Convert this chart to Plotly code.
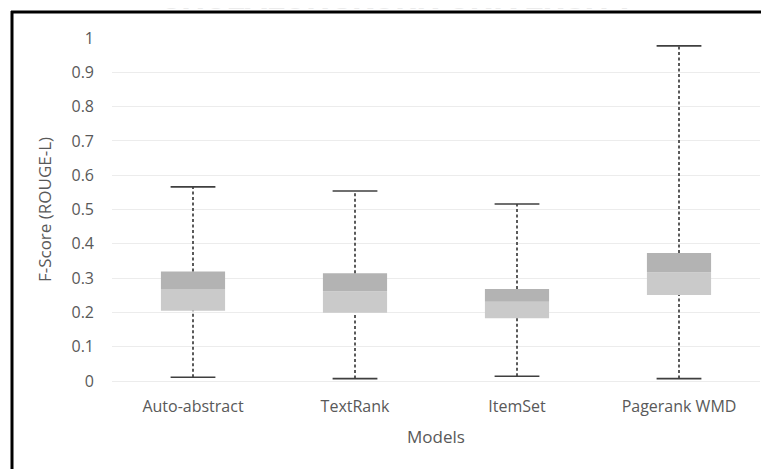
import plotly.graph_objects as go

# ---- data ----
categories = ["Auto-abstract", "TextRank", "ItemSet", "Pagerank WMD"]
min_vals = [0.011, 0.007, 0.014, 0.007]
q1_vals = [0.205, 0.199, 0.183, 0.251]
median_vals = [0.268, 0.262, 0.231, 0.317]
q3_vals = [0.319, 0.314, 0.268, 0.373]
max_vals = [0.566, 0.554, 0.516, 0.977]

y_ticks = [0, 0.1, 0.2, 0.3, 0.4, 0.5, 0.6, 0.7, 0.8, 0.9, 1]
y_tick_text = ["0", "0.1", "0.2", "0.3", "0.4", "0.5", "0.6", "0.7", "0.8", "0.9", "1"]

FONT = "Open Sans"
TXT = "#595959"
LIGHT = "#cacaca"
DARK = "#b3b3b3"
WHISK = "#5a5a5a"
CAP = "#3f3f3f"

fig = go.Figure()

# lower part of box: Q1 -> median
fig.add_trace(go.Bar(
    x=categories,
    y=[m - q for m, q in zip(median_vals, q1_vals)],
    base=q1_vals,
    marker=dict(color=LIGHT, line=dict(width=0)),
    hoverinfo="skip",
))
# upper part of box: median -> Q3
fig.add_trace(go.Bar(
    x=categories,
    y=[q - m for q, m in zip(q3_vals, median_vals)],
    base=median_vals,
    marker=dict(color=DARK, line=dict(width=0)),
    hoverinfo="skip",
))

# dashed whiskers
wx, wy = [], []
for c, lo, a, b, hi in zip(categories, min_vals, q1_vals, q3_vals, max_vals):
    wx += [c, c, None, c, c, None]
    wy += [lo, a, None, b, hi, None]
fig.add_trace(go.Scatter(
    x=wx, y=wy, mode="lines",
    line=dict(color=WHISK, width=2, dash="3px,2.5px"),
    hoverinfo="skip", connectgaps=False,
))

# caps
fig.add_trace(go.Scatter(
    x=categories + categories,
    y=max_vals + min_vals,
    mode="markers",
    marker=dict(symbol="line-ew", size=32, line=dict(color=CAP, width=1.6)),
    hoverinfo="skip",
))

# The page body has an 8px default margin; positions are given in window
# pixels and converted to figure coordinates.
OFF = 8
W, H = 769, 469
ml, mt = 112 - OFF, 38 - OFF
mr = W - (760 - OFF)
mb = H - (381 - OFF)
pw = W - ml - mr
ph = H - mt - mb

def px_x(x):
    return (x - OFF - ml) / pw

def px_y(y):
    return (H - mb - (y - OFF)) / ph

fig.update_layout(
    width=W, height=H,
    margin=dict(l=ml, r=mr, t=mt, b=mb),
    paper_bgcolor="white",
    plot_bgcolor="white",
    showlegend=False,
    barmode="overlay",
    bargap=0.604,
    font=dict(family=FONT, size=16, color=TXT),
    xaxis=dict(
        showgrid=False, showline=False, zeroline=False,
        ticks="", ticklabelstandoff=14,
        tickfont=dict(family=FONT, size=16, color=TXT),
        title=dict(text="Models", standoff=15,
                   font=dict(family=FONT, size=17, color=TXT)),
    ),
    yaxis=dict(
        range=[0, 1],
        tickmode="array", tickvals=y_ticks, ticktext=y_tick_text,
        showgrid=True, gridcolor="#ececec", gridwidth=1,
        zeroline=True, zerolinecolor="#ececec", zerolinewidth=1,
        showline=False, ticks="", ticklabelstandoff=17,
        tickfont=dict(family=FONT, size=16, color=TXT),
        title=dict(text="F-Score (ROUGE-L)", standoff=15,
                   font=dict(family=FONT, size=17, color=TXT)),
    ),
    shapes=[
        # white band right of the plot area (keeps the page edge clean)
        dict(type="rect", xref="paper", yref="paper", layer="above",
             x0=px_x(760.5), x1=px_x(800), y0=px_y(490), y1=px_y(14),
             fillcolor="white", line=dict(width=0)),
        dict(type="line", xref="paper", yref="paper",
             x0=px_x(12), x1=px_x(12), y0=px_y(490), y1=px_y(11),
             line=dict(color="black", width=3)),
        dict(type="line", xref="paper", yref="paper",
             x0=px_x(11), x1=px_x(790), y0=px_y(12), y1=px_y(12),
             line=dict(color="black", width=3)),
    ],
    annotations=[
        dict(text="<b>CHULALONGKORN UNIVERSITY</b>", xref="paper", yref="paper",
             x=px_x(397), y=px_y(19), xanchor="center", yanchor="bottom",
             showarrow=False,
             font=dict(family="Roboto", size=33, color="#ebebeb")),
    ],
)

fig.write_html("out.html")
